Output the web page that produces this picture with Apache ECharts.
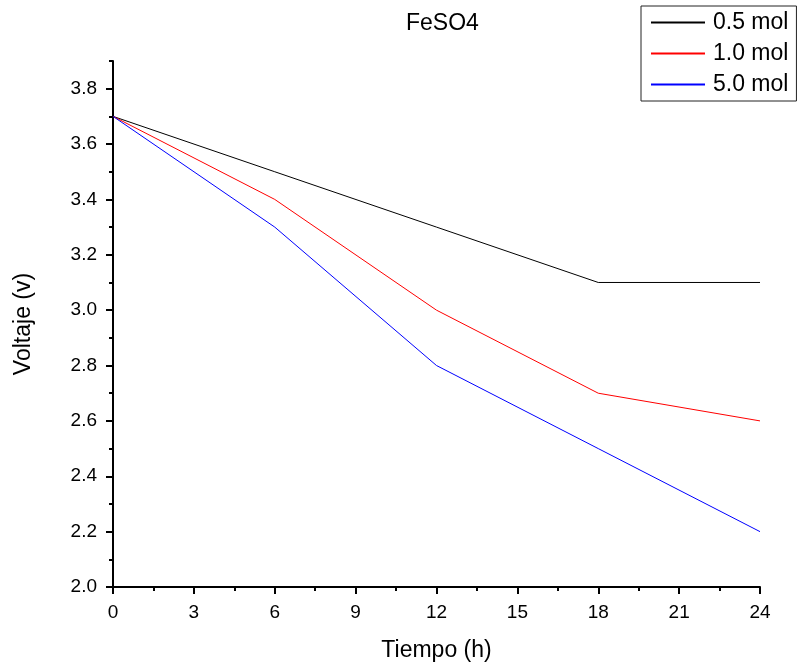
<!DOCTYPE html>
<html><head><meta charset="utf-8">
<script src="https://cdn.jsdelivr.net/npm/echarts@6/dist/echarts.min.js"></script>
<style>html,body{margin:0;padding:0;background:#fff}#c{width:797px;height:667px}</style>
</head><body><div id="c"></div>
<script>
const hours = [0, 6, 12, 18, 24];
const s05 = [3.7, 3.5, 3.3, 3.1, 3.1];
const s10 = [3.7, 3.4, 3.0, 2.7, 2.6];
const s50 = [3.7, 3.3, 2.8, 2.5, 2.2];
const seriesNames = ['0.5 mol', '1.0 mol', '5.0 mol'];
const yMajor = [2.0, 2.2, 2.4, 2.6, 2.8, 3.0, 3.2, 3.4, 3.6, 3.8];

const FONT = 'Liberation Sans';
const chart = echarts.init(document.getElementById('c'));
const pair = (ys) => hours.map((h, i) => [h, ys[i]]);
chart.setOption({
  animation: false,
  backgroundColor: '#fff',
  title: { text: 'FeSO4', left: 401, top: 7, textStyle: { fontFamily: FONT, fontSize: 23, fontWeight: 'normal', color: '#000' } },
  legend: {
    orient: 'vertical', left: 641, top: 6,
    padding: [5, 8, 5, 9],
    borderColor: '#222', borderWidth: 1,
    itemWidth: 54, itemHeight: 14, itemGap: 8,
    itemStyle: { opacity: 0 },
    textStyle: { fontFamily: FONT, fontSize: 23, color: '#000', lineHeight: 22, padding: [0, 0, 0, 3] },
    data: seriesNames
  },
  grid: { left: 113, right: 37, top: 61, bottom: 79 },
  xAxis: {
    type: 'value', min: 0, max: 24, interval: 3,
    name: 'Tiempo (h)', nameLocation: 'middle', nameGap: 52,
    nameTextStyle: { fontFamily: FONT, fontSize: 23, color: '#000' },
    axisLine: { lineStyle: { color: '#000', width: 2 } },
    axisTick: { length: 7, lineStyle: { color: '#000', width: 2 } },
    minorTick: { show: true, splitNumber: 2, length: 4, lineStyle: { color: '#000', width: 2 } },
    axisLabel: { fontFamily: FONT, fontSize: 19, color: '#000', margin: 16 },
    splitLine: { show: false }
  },
  yAxis: [{
    type: 'value', min: 2.0, max: 3.9, interval: 0.1,
    name: 'Voltaje (v)', nameLocation: 'middle', nameGap: 78, nameRotate: 90,
    nameTextStyle: { fontFamily: FONT, fontSize: 23, color: '#000' },
    axisLine: { show: true, lineStyle: { color: '#000', width: 2 } },
    axisTick: { length: 4, lineStyle: { color: '#000', width: 2 } },
    axisLabel: {
      fontFamily: FONT, fontSize: 19, color: '#000', margin: 16,
      formatter: (v) => (Math.round(v * 10) % 2 === 0 && v < 3.85) ? v.toFixed(1) : ''
    },
    splitLine: { show: false }
  }, {
    type: 'value', min: 2.0, max: 3.9, position: 'left',
    axisLine: { show: false },
    axisTick: { show: true, customValues: yMajor, length: 7, lineStyle: { color: '#000', width: 2 } },
    axisLabel: { show: false },
    splitLine: { show: false }
  }],
  series: [
    { name: seriesNames[0], type: 'line', color: '#000000', data: pair(s05), symbol: 'none', lineStyle: { color: '#000000', width: 1 } },
    { name: seriesNames[1], type: 'line', color: '#ff0000', data: pair(s10), symbol: 'none', lineStyle: { color: '#ff0000', width: 1 } },
    { name: seriesNames[2], type: 'line', color: '#0000ff', data: pair(s50), symbol: 'none', lineStyle: { color: '#0000ff', width: 1 } }
  ]
});
</script></body></html>
